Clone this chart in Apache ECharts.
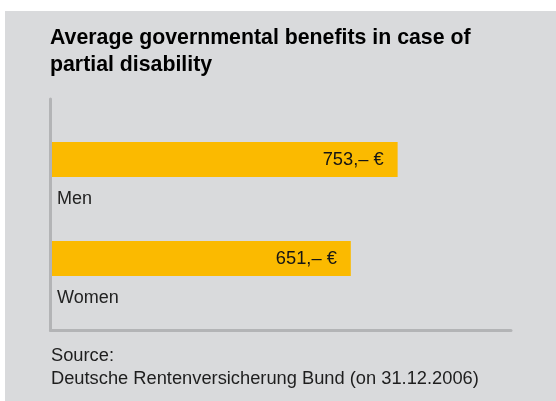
<!DOCTYPE html>
<html>
<head>
<meta charset="utf-8">
<script src="https://cdn.jsdelivr.net/npm/echarts@6/dist/echarts.min.js"></script>
<style>
  html, body { margin: 0; padding: 0; background: #ffffff; }
  #chart { width: 556px; height: 401px; }
</style>
</head>
<body>
<div id="chart"></div>
<script>
const titleText = 'Average governmental benefits in case of\npartial disability';
const categories = ['Men', 'Women'];
const values = [753, 651];
const valueSuffix = ',– €';
const sourceText = 'Source:\nDeutsche Rentenversicherung Bund (on 31.12.2006)';

const FONT = '"Liberation Sans", Arial, Helvetica, sans-serif';
const chart = echarts.init(document.getElementById('chart'), null, { renderer: 'canvas' });

chart.setOption({
  backgroundColor: '#ffffff',
  animation: false,
  graphic: [{
    type: 'rect',
    z: -10,
    silent: true,
    shape: { x: 5, y: 11, width: 551, height: 390 },
    style: { fill: '#d9dadc' }
  }],
  title: [{
    text: titleText,
    left: 50,
    top: 25,
    padding: 0,
    textStyle: { fontFamily: FONT, fontSize: 21.3, fontWeight: 'bold', color: '#000000', lineHeight: 26.5 }
  }, {
    text: sourceText,
    left: 51,
    top: 344,
    padding: 0,
    textStyle: { fontFamily: FONT, fontSize: 18.3, fontWeight: 'normal', color: '#1e1e1e', lineHeight: 23.5 }
  }],
  grid: [
    { left: 52, right: 45, top: 110, height: 198 },
    { left: 50.5, right: 45, top: 99, bottom: 70.5 }
  ],
  xAxis: [{
    gridIndex: 0,
    type: 'value',
    min: 0,
    max: 1000,
    show: false
  }, {
    gridIndex: 1,
    type: 'value',
    min: 0,
    max: 1,
    axisLine: { show: true, onZero: false, lineStyle: { color: '#b3b4b6', width: 3 } },
    axisTick: { show: false },
    axisLabel: { show: false },
    splitLine: { show: false }
  }],
  yAxis: [{
    gridIndex: 0,
    type: 'category',
    data: categories,
    inverse: true,
    axisLine: { show: false },
    axisTick: { show: false },
    splitLine: { show: false },
    axisLabel: {
      inside: true,
      align: 'left',
      verticalAlign: 'top',
      margin: 5,
      padding: [30, 0, 0, 0],
      lineHeight: 20,
      fontFamily: FONT,
      fontSize: 18,
      color: '#222222'
    }
  }, {
    gridIndex: 1,
    type: 'value',
    min: 0,
    max: 1,
    axisLine: { show: true, onZero: false, lineStyle: { color: '#b3b4b6', width: 3 } },
    axisTick: { show: false },
    axisLabel: { show: false },
    splitLine: { show: false }
  }],
  series: [{
    type: 'bar',
    xAxisIndex: 0,
    yAxisIndex: 0,
    data: values,
    barWidth: 35,
    itemStyle: { color: '#fbba00' },
    label: {
      show: true,
      position: 'insideRight',
      distance: 14,
      formatter: p => p.value + valueSuffix,
      fontFamily: FONT,
      fontSize: 18.3,
      color: '#151515'
    }
  }]
});
</script>
</body>
</html>
